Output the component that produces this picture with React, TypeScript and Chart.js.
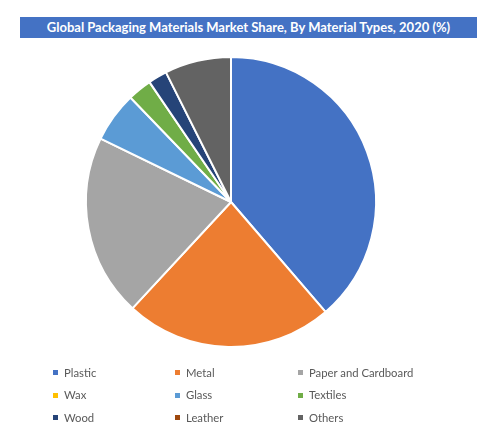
import React, { useEffect, useRef } from "react";
import { Chart, registerables } from "chart.js";

Chart.register(...registerables);

const TITLE = "Global Packaging Materials Market Share, By Material Types, 2020 (%)";
const categories = ["Plastic", "Metal", "Paper and Cardboard", "Wax", "Glass", "Textiles", "Wood", "Leather", "Others"];
const shares = [38.7, 23.2, 20.3, 0, 5.6, 2.7, 2.1, 0, 7.4];
const colors = ["#4472C4", "#ED7D31", "#A5A5A5", "#FFC000", "#5B9BD5", "#70AD47", "#264478", "#9E480E", "#636363"];

const legendCols = [53, 175, 298];
const legendRows = [372.5, 395, 417.5];

export default function App() {
  const ref = useRef<HTMLCanvasElement | null>(null);
  useEffect(() => {
    if (!ref.current) return;
    const chart = new Chart(ref.current, {
      type: "pie",
      data: {
        labels: categories,
        datasets: [
          {
            data: shares,
            backgroundColor: colors,
            borderColor: "#FFFFFF",
            borderWidth: 2,
            hoverOffset: 0,
          },
        ],
      },
      options: {
        animation: false,
        responsive: false,
        maintainAspectRatio: false,
        layout: { padding: { top: 56, bottom: 97, left: 85, right: 114 } },
        plugins: {
          legend: { display: false },
          title: { display: false },
          tooltip: { enabled: false },
        },
      },
    });
    return () => chart.destroy();
  }, []);

  return (
    <div style={{ position: "absolute", left: 0, top: 0, width: 491, height: 445, background: "#fff", overflow: "hidden" }}>
      <canvas ref={ref} width={491} height={445} style={{ position: "absolute", left: 0, top: 0, width: 491, height: 445 }} />
      <div
        style={{
          position: "absolute",
          left: 20,
          top: 17,
          width: 457,
          height: 21,
          background: "#4472C4",
          color: "#fff",
          fontFamily: "Lato, sans-serif",
          fontWeight: 700,
          fontSize: 13,
          lineHeight: "21px",
          textAlign: "center",
          whiteSpace: "nowrap",
        }}
      >
        {TITLE}
      </div>
      {categories.map((c, i) => {
        const x = legendCols[i % 3];
        const y = legendRows[Math.floor(i / 3)];
        return (
          <React.Fragment key={c}>
            <div style={{ position: "absolute", left: x, top: y - 2.5, width: 5, height: 5, background: colors[i] }} />
            <div
              style={{
                position: "absolute",
                left: x + 11,
                top: y - 8,
                height: 16,
                lineHeight: "16px",
                fontFamily: "Lato, sans-serif",
                fontSize: 11.3,
                color: "#595959",
                whiteSpace: "nowrap",
              }}
            >
              {c}
            </div>
          </React.Fragment>
        );
      })}
    </div>
  );
}
